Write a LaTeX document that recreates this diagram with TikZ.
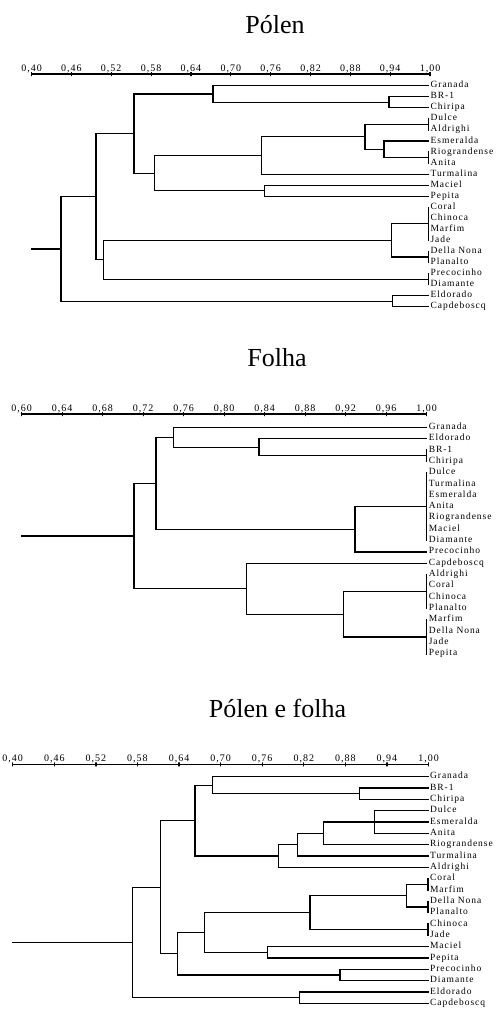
\documentclass[tikz,border=0pt]{standalone}
\usepackage{fontspec}
\setmainfont{Liberation Serif}
\newfontfamily\lblfont[LetterSpace=10]{Liberation Serif}
\newfontfamily\tkfont[LetterSpace=10]{Liberation Serif}
\usetikzlibrary{positioning}

\begin{document}
\begin{tikzpicture}[x=1pt, y=-1pt, line width=1.2pt, line cap=rect,
	leaf/.style={anchor=west, inner sep=1.5pt, text height=6pt, text depth=2pt, font=\lblfont\fontsize{9.5}{9.5}\selectfont},
	ttl/.style={anchor=base, inner sep=0pt, font=\fontsize{26}{26}\selectfont},
	tick/.style={draw, inner sep=0pt, minimum width=0pt, minimum height=4pt, label distance=3pt},
	tklbl/.style={anchor=base, inner sep=0pt, font=\tkfont\fontsize{10}{10}\selectfont}]
	\useasboundingbox (0,0) rectangle (496,1009);

	% ---------- Polen ----------
	\node[ttl] (tp) at (275,33) {Pólen};
	\node[tick, label={[tklbl]above:{0,40}}] (pa1) at (31.5,74) {};
	\node[tick, label={[tklbl]above:{0,46}}] (pa2) at (71.4,74) {};
	\node[tick, label={[tklbl]above:{0,52}}] (pa3) at (111.2,74) {};
	\node[tick, label={[tklbl]above:{0,58}}] (pa4) at (151.1,74) {};
	\node[tick, label={[tklbl]above:{0,64}}] (pa5) at (190.9,74) {};
	\node[tick, label={[tklbl]above:{0,70}}] (pa6) at (230.8,74) {};
	\node[tick, label={[tklbl]above:{0,76}}] (pa7) at (270.6,74) {};
	\node[tick, label={[tklbl]above:{0,82}}] (pa8) at (310.5,74) {};
	\node[tick, label={[tklbl]above:{0,88}}] (pa9) at (350.3,74) {};
	\node[tick, label={[tklbl]above:{0,94}}] (pa10) at (390.2,74) {};
	\node[tick, label={[tklbl]above:{1,00}}] (pa11) at (430,74) {};
	\draw (pa1.center) -- (pa11.center);

	\node[leaf] (p1) at (428.5,85.7) {Granada};
	\node[leaf] (p2) at (428.5,96.8) {BR-1};
	\node[leaf] (p3) at (428.5,107.8) {Chiripa};
	\node[leaf] (p4) at (428.5,118.9) {Dulce};
	\node[leaf] (p5) at (428.5,129.9) {Aldrighi};
	\node[leaf] (p6) at (428.5,141.0) {Esmeralda};
	\node[leaf] (p7) at (428.5,152.0) {Riograndense};
	\node[leaf] (p8) at (428.5,163.1) {Anita};
	\node[leaf] (p9) at (428.5,174.1) {Turmalina};
	\node[leaf] (p10) at (428.5,185.2) {Maciel};
	\node[leaf] (p11) at (428.5,196.2) {Pepita};
	\node[leaf] (p12) at (428.5,207.3) {Coral};
	\node[leaf] (p13) at (428.5,218.3) {Chinoca};
	\node[leaf] (p14) at (428.5,229.4) {Marfim};
	\node[leaf] (p15) at (428.5,240.4) {Jade};
	\node[leaf] (p16) at (428.5,251.5) {Della Nona};
	\node[leaf] (p17) at (428.5,262.5) {Planalto};
	\node[leaf] (p18) at (428.5,273.6) {Precocinho};
	\node[leaf] (p19) at (428.5,284.6) {Diamante};
	\node[leaf] (p20) at (428.5,295.7) {Eldorado};
	\node[leaf] (p21) at (428.5,306.7) {Capdeboscq};

	\coordinate (pm1) at (389,102.3);
	\coordinate (pm2) at (213,94.0);
	\coordinate (pt1) at (428.5,124.4);
	\coordinate (pt2) at (428.5,157.55);
	\coordinate (pm3) at (384,149.3);
	\coordinate (pm4) at (365,136.85);
	\coordinate (pm5) at (261.7,155.5);
	\coordinate (pm6) at (264.3,190.7);
	\coordinate (pm7) at (154.3,173.1);
	\coordinate (pm8) at (134,133.55);
	\coordinate (pt3) at (428.5,223.85);
	\coordinate (pt4) at (428.5,257);
	\coordinate (pm9) at (391.7,240.4);
	\coordinate (pt5) at (428.5,279.1);
	\coordinate (pm10) at (103.3,259.75);
	\coordinate (pm11) at (96,196.65);
	\coordinate (pm12) at (392.3,301.2);
	\coordinate (pm13) at (61,248.9);
	\coordinate (pm0) at (31.5,248.9);

	% ties at 1,00
	\draw (p4.west) -- (p5.west);
	\draw (p7.west) -- (p8.west);
	\draw (p12.west) -- (p15.west);
	\draw (p16.west) -- (p17.west);
	\draw (p18.west) -- (p19.west);
	% joins
	\draw (p2.west) -| (pm1); \draw (p3.west) -| (pm1);
	\draw (p1.west) -| (pm2); \draw (pm1) -| (pm2);
	\draw (p6.west) -| (pm3); \draw (pt2) -| (pm3);
	\draw (pt1) -| (pm4); \draw (pm3) -| (pm4);
	\draw (pm4) -| (pm5); \draw (p9.west) -| (pm5);
	\draw (p10.west) -| (pm6); \draw (p11.west) -| (pm6);
	\draw (pm5) -| (pm7); \draw (pm6) -| (pm7);
	\draw (pm2) -| (pm8); \draw (pm7) -| (pm8);
	\draw (pt3) -| (pm9); \draw (pt4) -| (pm9);
	\draw (pm9) -| (pm10); \draw (pt5) -| (pm10);
	\draw (pm8) -| (pm11); \draw (pm10) -| (pm11);
	\draw (p20.west) -| (pm12); \draw (p21.west) -| (pm12);
	\draw (pm11) -| (pm13); \draw (pm12) -| (pm13);
	\draw (pm0) -- (pm13);

	% ---------- Folha ----------
	\node[ttl] (tf) at (277,366.7) {Folha};
	\node[tick, label={[tklbl]above:{0,60}}] (fa1) at (21.7,414) {};
	\node[tick, label={[tklbl]above:{0,64}}] (fa2) at (62.2,414) {};
	\node[tick, label={[tklbl]above:{0,68}}] (fa3) at (102.7,414) {};
	\node[tick, label={[tklbl]above:{0,72}}] (fa4) at (143.2,414) {};
	\node[tick, label={[tklbl]above:{0,76}}] (fa5) at (183.7,414) {};
	\node[tick, label={[tklbl]above:{0,80}}] (fa6) at (224.2,414) {};
	\node[tick, label={[tklbl]above:{0,84}}] (fa7) at (264.7,414) {};
	\node[tick, label={[tklbl]above:{0,88}}] (fa8) at (305.2,414) {};
	\node[tick, label={[tklbl]above:{0,92}}] (fa9) at (345.7,414) {};
	\node[tick, label={[tklbl]above:{0,96}}] (fa10) at (386.2,414) {};
	\node[tick, label={[tklbl]above:{1,00}}] (fa11) at (426.7,414) {};
	\draw (fa1.center) -- (fa11.center);

	\node[leaf] (f1) at (426.7,427.3) {Granada};
	\node[leaf] (f2) at (426.7,438.6) {Eldorado};
	\node[leaf] (f3) at (426.7,450.0) {BR-1};
	\node[leaf] (f4) at (426.7,461.3) {Chiripa};
	\node[leaf] (f5) at (426.7,472.6) {Dulce};
	\node[leaf] (f6) at (426.7,484.0) {Turmalina};
	\node[leaf] (f7) at (426.7,495.3) {Esmeralda};
	\node[leaf] (f8) at (426.7,506.6) {Anita};
	\node[leaf] (f9) at (426.7,517.9) {Riograndense};
	\node[leaf] (f10) at (426.7,529.3) {Maciel};
	\node[leaf] (f11) at (426.7,540.6) {Diamante};
	\node[leaf] (f12) at (426.7,551.9) {Precocinho};
	\node[leaf] (f13) at (426.7,563.3) {Capdeboscq};
	\node[leaf] (f14) at (426.7,574.6) {Aldrighi};
	\node[leaf] (f15) at (426.7,585.9) {Coral};
	\node[leaf] (f16) at (426.7,597.3) {Chinoca};
	\node[leaf] (f17) at (426.7,608.6) {Planalto};
	\node[leaf] (f18) at (426.7,619.9) {Marfim};
	\node[leaf] (f19) at (426.7,631.2) {Della Nona};
	\node[leaf] (f20) at (426.7,642.6) {Jade};
	\node[leaf] (f21) at (426.7,653.9) {Pepita};

	\coordinate (ft1) at (426.7,455.65);
	\coordinate (fm1) at (259,447.1);
	\coordinate (fm2) at (173.3,437.2);
	\coordinate (ft2) at (426.7,506.6);
	\coordinate (fm3) at (355,529.25);
	\coordinate (fm4) at (156,483.2);
	\coordinate (ft3) at (426.7,591.6);
	\coordinate (ft4) at (426.7,636.9);
	\coordinate (fm5) at (343.3,614.25);
	\coordinate (fm6) at (246.7,588.8);
	\coordinate (fm7) at (134,536.0);
	\coordinate (fm0) at (21.7,536.0);

	% ties at 1,00
	\draw (f3.west) -- (f4.west);
	\draw (f5.west) -- (f11.west);
	\draw (f14.west) -- (f17.west);
	\draw (f18.west) -- (f21.west);
	% joins
	\draw (f2.west) -| (fm1); \draw (ft1) -| (fm1);
	\draw (f1.west) -| (fm2); \draw (fm1) -| (fm2);
	\draw (ft2) -| (fm3); \draw (f12.west) -| (fm3);
	\draw (fm2) -| (fm4); \draw (fm3) -| (fm4);
	\draw (ft3) -| (fm5); \draw (ft4) -| (fm5);
	\draw (f13.west) -| (fm6); \draw (fm5) -| (fm6);
	\draw (fm4) -| (fm7); \draw (fm6) -| (fm7);
	\draw (fm0) -- (fm7);

	% ---------- Polen e folha ----------
	\node[ttl] (tpf) at (277.5,717.3) {Pólen e folha};
	\node[tick, label={[tklbl]above:{0,40}}] (pfa1) at (12.7,764.3) {};
	\node[tick, label={[tklbl]above:{0,46}}] (pfa2) at (54.3,764.3) {};
	\node[tick, label={[tklbl]above:{0,52}}] (pfa3) at (95.9,764.3) {};
	\node[tick, label={[tklbl]above:{0,58}}] (pfa4) at (137.4,764.3) {};
	\node[tick, label={[tklbl]above:{0,64}}] (pfa5) at (179.0,764.3) {};
	\node[tick, label={[tklbl]above:{0,70}}] (pfa6) at (220.6,764.3) {};
	\node[tick, label={[tklbl]above:{0,76}}] (pfa7) at (262.2,764.3) {};
	\node[tick, label={[tklbl]above:{0,82}}] (pfa8) at (303.8,764.3) {};
	\node[tick, label={[tklbl]above:{0,88}}] (pfa9) at (345.3,764.3) {};
	\node[tick, label={[tklbl]above:{0,94}}] (pfa10) at (386.9,764.3) {};
	\node[tick, label={[tklbl]above:{1,00}}] (pfa11) at (428.5,764.3) {};
	\draw (pfa1.center) -- (pfa11.center);

	\node[leaf] (pf1) at (428,776.7) {Granada};
	\node[leaf] (pf2) at (428,788.0) {BR-1};
	\node[leaf] (pf3) at (428,799.4) {Chiripa};
	\node[leaf] (pf4) at (428,810.7) {Dulce};
	\node[leaf] (pf5) at (428,822.0) {Esmeralda};
	\node[leaf] (pf6) at (428,833.4) {Anita};
	\node[leaf] (pf7) at (428,844.7) {Riograndense};
	\node[leaf] (pf8) at (428,856.0) {Turmalina};
	\node[leaf] (pf9) at (428,867.3) {Aldrighi};
	\node[leaf] (pf10) at (428,878.7) {Coral};
	\node[leaf] (pf11) at (428,890.0) {Marfim};
	\node[leaf] (pf12) at (428,901.3) {Della Nona};
	\node[leaf] (pf13) at (428,912.7) {Planalto};
	\node[leaf] (pf14) at (428,924.0) {Chinoca};
	\node[leaf] (pf15) at (428,935.3) {Jade};
	\node[leaf] (pf16) at (428,946.7) {Maciel};
	\node[leaf] (pf17) at (428,958.0) {Pepita};
	\node[leaf] (pf18) at (428,969.3) {Precocinho};
	\node[leaf] (pf19) at (428,980.7) {Diamante};
	\node[leaf] (pf20) at (428,992.0) {Eldorado};
	\node[leaf] (pf21) at (428,1003.3) {Capdeboscq};

	\coordinate (pfm1) at (359.3,793.7);
	\coordinate (pfm2) at (212.3,785.2);
	\coordinate (pfm3) at (374.7,822.0);
	\coordinate (pfm4) at (323.3,833.35);
	\coordinate (pfm5) at (297.7,844.7);
	\coordinate (pfm6) at (278.3,856.0);
	\coordinate (pfm7) at (195,820.6);
	\coordinate (pft1) at (428,884.35);
	\coordinate (pft2) at (428,907.0);
	\coordinate (pfm8) at (406.7,895.7);
	\coordinate (pft3) at (428,929.65);
	\coordinate (pfm9) at (310,912.7);
	\coordinate (pfm10) at (267.7,952.35);
	\coordinate (pfm11) at (204.3,932.5);
	\coordinate (pfm12) at (340,975.0);
	\coordinate (pfm13) at (177.7,953.75);
	\coordinate (pfm14) at (160.7,887.2);
	\coordinate (pfm15) at (299.3,997.65);
	\coordinate (pfm16) at (132.7,942.4);
	\coordinate (pfm0) at (12.7,942.4);

	% ties at 1,00
	\draw (pf10.west) -- (pf11.west);
	\draw (pf12.west) -- (pf13.west);
	\draw (pf14.west) -- (pf15.west);
	% joins
	\draw (pf2.west) -| (pfm1); \draw (pf3.west) -| (pfm1);
	\draw (pf1.west) -| (pfm2); \draw (pfm1) -| (pfm2);
	\draw (pf4.west) -| (pfm3); \draw (pf6.west) -| (pfm3); \draw (pf5.west) -- (pfm3);
	\draw (pfm3) -| (pfm4); \draw (pf7.west) -| (pfm4);
	\draw (pfm4) -| (pfm5); \draw (pf8.west) -| (pfm5);
	\draw (pfm5) -| (pfm6); \draw (pf9.west) -| (pfm6);
	\draw (pfm2) -| (pfm7); \draw (pfm6) -| (pfm7);
	\draw (pft1) -| (pfm8); \draw (pft2) -| (pfm8);
	\draw (pfm8) -| (pfm9); \draw (pft3) -| (pfm9);
	\draw (pf16.west) -| (pfm10); \draw (pf17.west) -| (pfm10);
	\draw (pfm9) -| (pfm11); \draw (pfm10) -| (pfm11);
	\draw (pf18.west) -| (pfm12); \draw (pf19.west) -| (pfm12);
	\draw (pfm11) -| (pfm13); \draw (pfm12) -| (pfm13);
	\draw (pfm7) -| (pfm14); \draw (pfm13) -| (pfm14);
	\draw (pf20.west) -| (pfm15); \draw (pf21.west) -| (pfm15);
	\draw (pfm14) -| (pfm16); \draw (pfm15) -| (pfm16);
	\draw (pfm0) -- (pfm16);
\end{tikzpicture}
\end{document}
